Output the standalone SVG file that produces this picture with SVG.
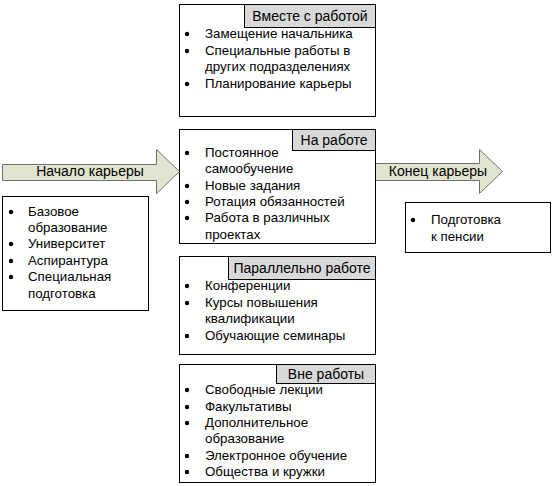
<svg xmlns="http://www.w3.org/2000/svg" width="553" height="486" viewBox="0 0 553 486">
<style>
text{font-family:"Liberation Sans",Arial,sans-serif;font-size:13.3px;fill:#000}
.box{fill:#fff;stroke:#000;stroke-width:1}
.lab{fill:#d9d9d9;stroke:#000;stroke-width:1}
.arr{fill:#e0e5cf;stroke:#707070;stroke-width:1}
.mid{text-anchor:middle}
.big{font-size:14px}
</style>
<defs><circle id="b" r="2.2" fill="#000"/></defs>
<rect width="553" height="486" fill="#fff"/>
<g id="connectors">
<polygon class="arr" points="2.5,164.5 156.5,164.5 156.5,149.5 179.5,171.5 156.5,193.5 156.5,180.5 2.5,180.5"/>
<text class="mid big" x="90" y="176">Начало карьеры</text>
<polygon class="arr" points="375.5,163.5 479.5,163.5 479.5,149.5 502.5,171.5 479.5,193.5 479.5,180.5 375.5,180.5"/>
<text class="mid big" x="438" y="176">Конец карьеры</text>
</g>
<g id="n-left">
<rect class="box" x="2.5" y="196.5" width="146" height="114"/>
<use href="#b" x="11" y="212"/><text x="28" y="216">Базовое</text>
<text x="28" y="232">образование</text>
<use href="#b" x="11" y="244"/><text x="28" y="248">Университет</text>
<use href="#b" x="11" y="261"/><text x="28" y="265">Аспирантура</text>
<use href="#b" x="11" y="277"/><text x="28" y="281">Специальная</text>
<text x="28" y="298">подготовка</text>
</g>
<g id="n-with">
<rect class="box" x="179.5" y="4.5" width="196" height="112"/>
<rect class="lab" x="244.5" y="4.5" width="131" height="23"/>
<text class="mid big" x="310" y="21">Вместе с работой</text>
<use href="#b" x="187" y="34"/><text x="205" y="38">Замещение начальника</text>
<use href="#b" x="187" y="51"/><text x="205" y="55">Специальные работы в</text>
<text x="205" y="71">других подразделениях</text>
<use href="#b" x="187" y="84"/><text x="205" y="88">Планирование карьеры</text>
</g>
<g id="n-at">
<rect class="box" x="179.5" y="129.5" width="196" height="114"/>
<rect class="lab" x="292.5" y="129.5" width="83" height="21"/>
<text class="mid big" x="334" y="145">На работе</text>
<use href="#b" x="187" y="153"/><text x="205" y="157">Постоянное</text>
<text x="205" y="173">самообучение</text>
<use href="#b" x="187" y="186"/><text x="205" y="190">Новые задания</text>
<use href="#b" x="187" y="202"/><text x="205" y="206">Ротация обязанностей</text>
<use href="#b" x="187" y="218"/><text x="205" y="222">Работа в различных</text>
<text x="205" y="239">проектах</text>
</g>
<g id="n-parallel">
<rect class="box" x="179.5" y="256.5" width="196" height="98"/>
<rect class="lab" x="228.5" y="256.5" width="147" height="23"/>
<text class="mid big" x="302" y="273">Параллельно работе</text>
<use href="#b" x="187" y="286"/><text x="205" y="290">Конференции</text>
<use href="#b" x="187" y="303"/><text x="205" y="307">Курсы повышения</text>
<text x="205" y="323">квалификации</text>
<use href="#b" x="187" y="336"/><text x="205" y="340">Обучающие семинары</text>
</g>
<g id="n-outside">
<rect class="box" x="179.5" y="364.5" width="196" height="118"/>
<rect class="lab" x="276.5" y="364.5" width="99" height="19"/>
<text class="mid big" x="326" y="379">Вне работы</text>
<use href="#b" x="187" y="390"/><text x="205" y="394">Свободные лекции</text>
<use href="#b" x="187" y="407"/><text x="205" y="411">Факультативы</text>
<use href="#b" x="187" y="423"/><text x="205" y="427">Дополнительное</text>
<text x="205" y="443">образование</text>
<use href="#b" x="187" y="456"/><text x="205" y="460">Электронное обучение</text>
<use href="#b" x="187" y="472"/><text x="205" y="476">Общества и кружки</text>
</g>
<g id="n-right">
<rect class="box" x="405.5" y="202.5" width="145" height="50"/>
<use href="#b" x="413" y="220"/><text x="431" y="224">Подготовка</text>
<text x="431" y="241">к пенсии</text>
</g>
</svg>
